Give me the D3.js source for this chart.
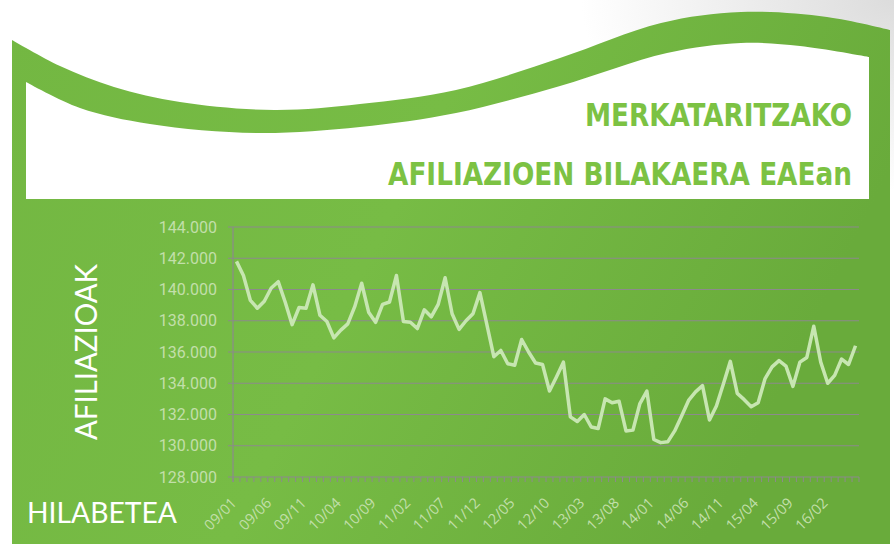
<!doctype html>
<html lang="eu">
<head>
<meta charset="utf-8">
<title>Merkataritzako afiliazioen bilakaera EAEan</title>
<style>
  html, body { margin: 0; padding: 0; background: #fff; }
  svg { display: block; }
</style>
</head>
<body>
<script src="https://cdn.jsdelivr.net/npm/d3@7"></script>
<script>

// monthly affiliations, 2009/01 .. 2016/06
const months = d3.range(90).map(i => {
  const y = 9 + Math.floor(i / 12), m = (i % 12) + 1;
  return String(y).padStart(2, "0") + "/" + String(m).padStart(2, "0");
});

const afiliazioak = [
  141800, 140900, 139300, 138800, 139250, 140100, 140500, 139200, 137750, 138850, 138800, 140300,
  138350, 137950, 136900, 137400, 137800, 138900, 140400, 138550, 137900, 139050, 139200, 140900,
  137950, 137900, 137500, 138700, 138250, 139050, 140750, 138450, 137450, 138000, 138450, 139800,
  137750, 135700, 136100, 135250, 135150, 136800, 136000, 135300, 135200, 133500, 134400, 135350,
  131850, 131550, 132000, 131200, 131100, 133000, 132750, 132850, 130950, 131000, 132700, 133500,
  130400, 130200, 130250, 130950, 131900, 132900, 133450, 133850, 131650, 132550, 133950, 135400,
  133350, 132950, 132500, 132750, 134300, 135050, 135450, 135100, 133800, 135350, 135650, 137650,
  135350, 134000, 134500, 135550, 135200, 136400
];

const yTicks = [128000, 130000, 132000, 134000, 136000, 138000, 140000, 142000, 144000];

const titleLines = ["MERKATARITZAKO", "AFILIAZIOEN BILAKAERA EAEan"];

const width = 894, height = 544;
const plot = {left: 233, right: 859, top: 227, bottom: 477};

const svg = d3.select("body").append("svg")
    .attr("width", width)
    .attr("height", height);

const defs = svg.append("defs");

const greenGrad = defs.append("linearGradient").attr("id", "green")
    .attr("x1", "0").attr("y1", "0").attr("x2", "1").attr("y2", "0.3");
greenGrad.append("stop").attr("offset", "0%").attr("stop-color", "#73b742");
greenGrad.append("stop").attr("offset", "50%").attr("stop-color", "#77bc45");
greenGrad.append("stop").attr("offset", "100%").attr("stop-color", "#69ab3b");

const corner = defs.append("radialGradient").attr("id", "corner")
    .attr("cx", "1").attr("cy", "0").attr("r", "0.35");
corner.append("stop").attr("offset", "0%").attr("stop-color", "#dcdcdc");
corner.append("stop").attr("offset", "100%").attr("stop-color", "#ffffff");

svg.append("rect").attr("width", width).attr("height", height).attr("fill", "url(#corner)");

// green panel with wavy top
const wave = d3.line().curve(d3.curveCatmullRom.alpha(0.5));

const outerTop = [[12, 40], [60, 66], [114, 87], [180, 102], [274, 110], [360, 104], [456, 90],
  [560, 58], [661, 23], [741, 12], [827, 17], [890, 30]];
svg.append("path")
    .attr("d", wave(outerTop) + "L890,544L12,544Z")
    .attr("fill", "url(#green)");

// white card
const innerTop = [[26, 82], [80, 108], [150, 124], [256, 133], [360, 127], [456, 113],
  [560, 86], [667, 53], [741, 43], [800, 46], [869, 57]];
svg.append("path")
    .attr("d", wave(innerTop) + "L869,199L26,199Z")
    .attr("fill", "#ffffff");

// title
svg.selectAll("text.title")
  .data(titleLines)
  .join("text")
    .attr("class", "title")
    .attr("x", 852)
    .attr("y", (d, i) => 126 + i * 59)
    .attr("text-anchor", "end")
    .attr("textLength", (d, i) => i === 0 ? 267 : 464)
    .attr("lengthAdjust", "spacingAndGlyphs")
    .style("font-family", "'Liberation Sans Narrow', 'DejaVu Sans Condensed', sans-serif")
    .style("font-size", "32px")
    .style("font-weight", "bold")
    .style("fill", "#7cc243")
    .text(d => d);

// scales
const x = d3.scaleBand().domain(months).range([plot.left, plot.right]);
const y = d3.scaleLinear().domain([128000, 144000]).range([plot.bottom, plot.top]);

const fmt = d3.formatLocale({decimal: ",", thousands: ".", grouping: [3], currency: ["", ""]}).format(",d");

const chart = svg.append("g");

// gridlines
chart.selectAll("line.grid")
  .data(yTicks)
  .join("line")
    .attr("class", "grid")
    .attr("x1", plot.left - 5).attr("x2", plot.right)
    .attr("y1", d => y(d)).attr("y2", d => y(d))
    .attr("stroke", "#8c8a8c")
    .attr("stroke-width", 1.2);

chart.append("line")
    .attr("x1", plot.left).attr("x2", plot.left)
    .attr("y1", plot.top).attr("y2", plot.bottom + 5)
    .attr("stroke", "#8c8a8c")
    .attr("stroke-width", 1.2);

// bottom ticks between categories
chart.selectAll("line.xtick")
  .data(months.concat(["end"]))
  .join("line")
    .attr("class", "xtick")
    .attr("x1", (d, i) => plot.left + i * x.bandwidth())
    .attr("x2", (d, i) => plot.left + i * x.bandwidth())
    .attr("y1", plot.bottom).attr("y2", plot.bottom + 5)
    .attr("stroke", "#8c8a8c")
    .attr("stroke-width", 1);

// y labels
chart.selectAll("text.ylab")
  .data(yTicks)
  .join("text")
    .attr("class", "ylab")
    .attr("x", 217)
    .attr("y", d => y(d) + 5.5)
    .attr("text-anchor", "end")
    .style("font-family", "Roboto, sans-serif")
    .style("font-size", "16px")
    .style("fill", "#c2dfaa")
    .text(d => fmt(d));

// x labels every 5 months
chart.selectAll("text.xlab")
  .data(months.filter((d, i) => i % 5 === 0))
  .join("text")
    .attr("class", "xlab")
    .attr("text-anchor", "end")
    .attr("transform", d => `translate(${x(d) + x.bandwidth() / 2 + 1},${plot.bottom + 27}) rotate(-45)`)
    .style("font-family", "'Open Sans', sans-serif")
    .style("font-size", "14.5px")
    .style("fill", "#c2dfaa")
    .text(d => d);

// line
const line = d3.line()
    .x((d, i) => x(months[i]) + x.bandwidth() / 2)
    .y(d => y(d));

chart.append("path")
    .datum(afiliazioak)
    .attr("d", line)
    .attr("fill", "none")
    .attr("stroke", "#c7e6b1")
    .attr("stroke-width", 3.5)
    .attr("stroke-linejoin", "round");

// axis titles
svg.append("text")
    .attr("transform", "translate(97,352) rotate(-90)")
    .attr("text-anchor", "middle")
    .attr("textLength", 176)
    .attr("lengthAdjust", "spacingAndGlyphs")
    .style("font-family", "Lato, sans-serif")
    .style("font-size", "31px")
    .style("fill", "#ffffff")
    .text("AFILIAZIOAK");

svg.append("text")
    .attr("x", 27)
    .attr("y", 523)
    .attr("textLength", 150)
    .attr("lengthAdjust", "spacingAndGlyphs")
    .style("font-family", "Lato, sans-serif")
    .style("font-size", "29px")
    .style("fill", "#ffffff")
    .text("HILABETEA");

</script>
</body>
</html>
